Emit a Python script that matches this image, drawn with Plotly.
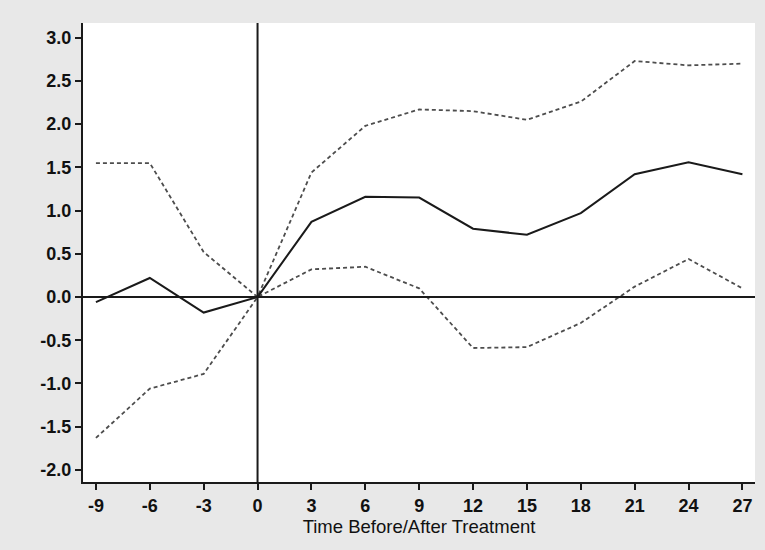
import plotly.graph_objects as go

periods = [-9, -6, -3, 0, 3, 6, 9, 12, 15, 18, 21, 24, 27]
estimate = [-0.06, 0.22, -0.18, 0.0, 0.87, 1.16, 1.15, 0.79, 0.72, 0.97, 1.42, 1.56, 1.42]
upper_ci = [1.55, 1.55, 0.52, 0.0, 1.44, 1.98, 2.17, 2.15, 2.05, 2.26, 2.73, 2.68, 2.70]
lower_ci = [-1.63, -1.06, -0.89, 0.0, 0.32, 0.35, 0.10, -0.59, -0.58, -0.30, 0.12, 0.44, 0.10]
x_ticks = [-9, -6, -3, 0, 3, 6, 9, 12, 15, 18, 21, 24, 27]
y_ticks = [-2.0, -1.5, -1.0, -0.5, 0.0, 0.5, 1.0, 1.5, 2.0, 2.5, 3.0]
x_title = "Time Before/After Treatment"

paper = "#e8e8e8"
ink = "#1a1a1a"
dash_col = "#4d4d4d"

fig = go.Figure()
fig.add_trace(go.Scatter(x=periods, y=upper_ci, mode="lines",
                         line=dict(color=dash_col, width=1.8, dash="4px,3px"), showlegend=False))
fig.add_trace(go.Scatter(x=periods, y=lower_ci, mode="lines",
                         line=dict(color=dash_col, width=1.8, dash="4px,3px"), showlegend=False))
fig.add_trace(go.Scatter(x=periods, y=estimate, mode="lines",
                         line=dict(color=ink, width=2), showlegend=False))

fig.add_shape(type="line", xref="paper", yref="y", x0=0, x1=1, y0=0, y1=0,
              line=dict(color=ink, width=2))
fig.add_shape(type="line", xref="x", yref="paper", x0=0, x1=0, y0=0, y1=1,
              line=dict(color=ink, width=2))

font_main = "Liberation Sans, Arial, sans-serif"
fig.update_layout(
    width=765, height=550,
    margin=dict(l=83, r=10, t=23, b=68, autoexpand=False),
    paper_bgcolor=paper,
    plot_bgcolor="#ffffff",
    font=dict(family=font_main, color="#111111", size=18),
    xaxis=dict(range=[-9.72, 27.7], tickvals=x_ticks, ticktext=[f"<b>{t}</b>" for t in x_ticks],
               showgrid=False, zeroline=False, showline=True, linecolor=ink, linewidth=2,
               ticks="outside", ticklen=6, tickwidth=1.5, tickcolor=ink,
               title=dict(text=x_title, font=dict(size=18.5, family=font_main), standoff=0)),
    yaxis=dict(range=[-2.14, 3.17], tickvals=y_ticks, ticktext=[f"<b>{t:.1f}</b>" for t in y_ticks],
               showgrid=False, zeroline=False, showline=True, linecolor=ink, linewidth=2,
               ticks="outside", ticklen=6, tickwidth=1.5, tickcolor=ink),
)
fig.write_html(
    "out.html",
    config={"displayModeBar": False},
    post_script="document.body.style.margin='0';document.body.style.background='" + paper + "';",
)
